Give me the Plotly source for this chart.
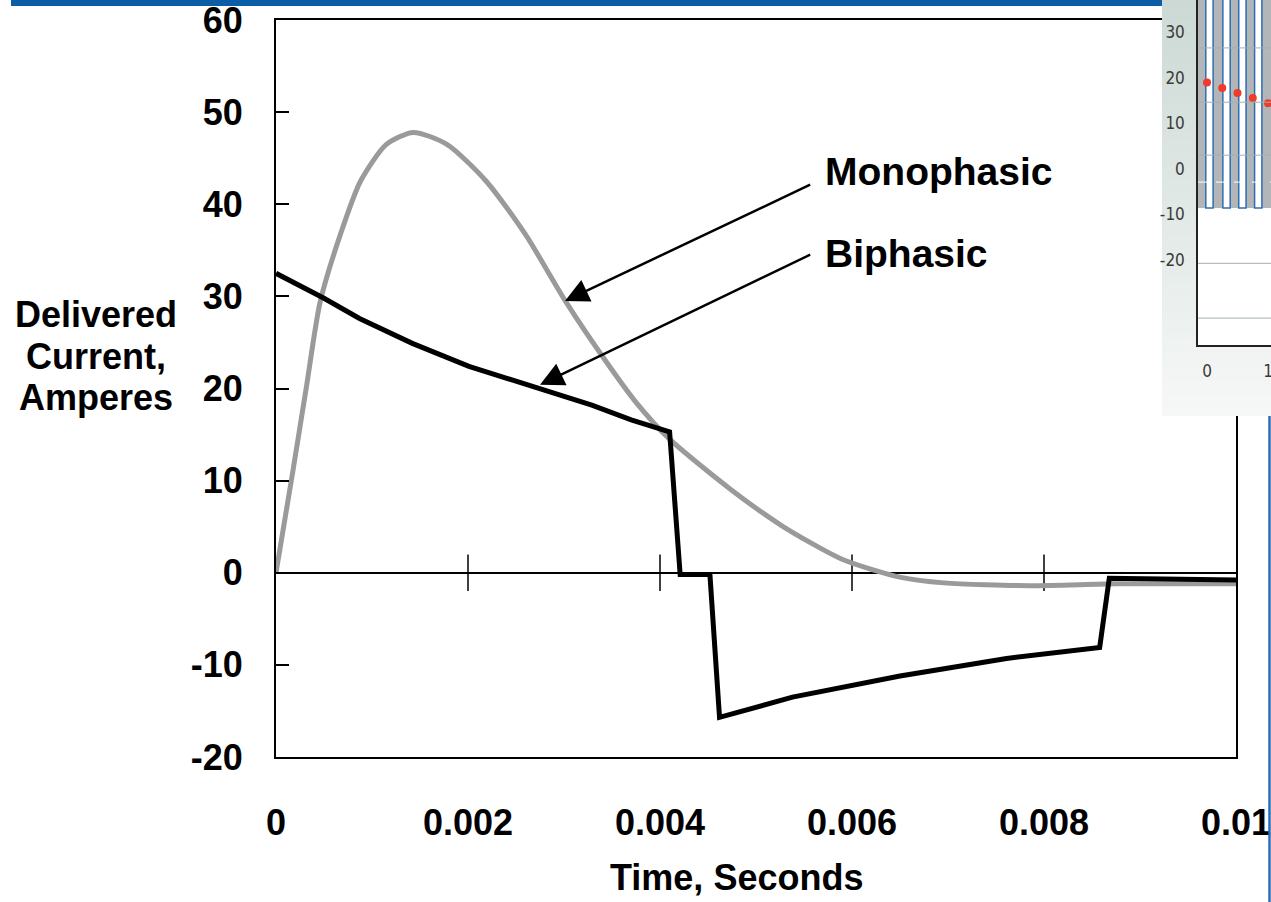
import plotly.graph_objects as go

# ---------------- data ----------------
mono_t = [0, 0.00018, 0.00032, 0.00046, 0.00067, 0.00088, 0.00115, 0.00143, 0.00178,
          0.00219, 0.0026, 0.00302, 0.00344, 0.00375, 0.0041, 0.00473, 0.00527,
          0.00589, 0.00651, 0.00696, 0.00785, 0.00875, 0.01]
mono_i = [0, 11.3, 20.4, 29.4, 36.7, 42.5, 46.5, 47.8, 46.5,
          42.5, 36.7, 29.4, 22.9, 18.5, 14.5, 9.1, 5.1,
          1.5, -0.5, -1.1, -1.4, -1.2, -1.2]

bi_t = [0, 0.0005, 0.00087, 0.00142, 0.00201, 0.00273, 0.00329, 0.0037, 0.0041,
        0.00421, 0.00452, 0.00462, 0.00538, 0.0065, 0.00761, 0.00858, 0.00868, 0.01]
bi_i = [32.5, 29.8, 27.6, 24.9, 22.4, 20.0, 18.2, 16.6, 15.3,
        -0.2, -0.2, -15.7, -13.5, -11.2, -9.3, -8.1, -0.6, -0.8]

x_tickvals = [0, 0.002, 0.004, 0.006, 0.008, 0.01]
x_ticktext = ["0", "0.002", "0.004", "0.006", "0.008", "0.01"]
y_tickvals = [-20, -10, 0, 10, 20, 30, 40, 50, 60]
y_ticktext = ["-20", "-10", "0", "10", "20", "30", "40", "50", "60"]
zero_line_ticks = [0.002, 0.004, 0.006, 0.008]
y_title_lines = ["Delivered", "Current,", "Amperes"]

# inset (partial slide chart in the top-right corner)
inset_bar_x = [0.04, 0.32, 0.58, 0.84]
inset_bar_top = [60, 60, 60, 60]
inset_bar_base = -8.6
inset_dot_x = [0, 0.25, 0.5, 0.75, 1.0]
inset_dot_y = [18.9, 17.7, 16.6, 15.5, 14.4]
inset_y_ticks = [30, 20, 10, 0, -10, -20]
inset_y_text = ["30", "20", "10", "0", "-10", "-20"]
inset_x_ticks = [0, 1]
inset_grid = [26.5, 14.6, 3.0, -20.7, -32.7]
inset_dash_grid = [-2.9]

W, H = 1271, 902
FONT = "Liberation Sans, Arial, Helvetica, sans-serif"
NARROW = "Liberation Sans Narrow, DejaVu Sans Condensed, Liberation Sans, sans-serif"

def px_x(p):
    return p / W

def px_y(p):
    return 1 - p / H

fig = go.Figure()

# zero-line crossing tick marks
fig.add_trace(go.Scatter(
    x=zero_line_ticks, y=[0] * len(zero_line_ticks), mode="markers",
    marker=dict(symbol="line-ns", size=26, line=dict(width=1.5, color="black")),
    hoverinfo="skip", showlegend=False, xaxis="x", yaxis="y"))

fig.add_trace(go.Scatter(
    x=mono_t, y=mono_i, mode="lines", name="Monophasic",
    line=dict(color="#9a9a9a", width=5, shape="spline", smoothing=0.7),
    showlegend=False, xaxis="x", yaxis="y"))

fig.add_trace(go.Scatter(
    x=bi_t, y=bi_i, mode="lines", name="Biphasic",
    line=dict(color="black", width=5), showlegend=False, xaxis="x", yaxis="y"))

# inset background gradient (decorative)
n_bg = 60
fig.add_trace(go.Heatmap(
    z=[[k / (n_bg - 1)] for k in range(n_bg)], x=[0], y=list(range(n_bg)),
    colorscale=[[0, "#f6f8f7"], [1, "#ccd9d4"]], showscale=False,
    hoverinfo="skip", xaxis="x2", yaxis="y2"))

# inset bars and dots
fig.add_trace(go.Bar(
    x=[0.45], y=[60], base=[inset_bar_base], width=[1.4],
    marker=dict(color="#b2b6b8", line=dict(width=0)),
    hoverinfo="skip", showlegend=False, xaxis="x3", yaxis="y3"))
fig.add_trace(go.Bar(
    x=inset_bar_x, y=inset_bar_top, base=[inset_bar_base] * len(inset_bar_x),
    width=[0.12] * len(inset_bar_x),
    marker=dict(color="white", line=dict(width=1.5, color="#2f6db3")),
    hoverinfo="skip", showlegend=False, xaxis="x3", yaxis="y3"))
fig.add_trace(go.Scatter(
    x=inset_dot_x, y=inset_dot_y, mode="markers",
    marker=dict(size=8, color="#ee3b2b"), cliponaxis=False,
    hoverinfo="skip", showlegend=False, xaxis="x3", yaxis="y3"))

shapes = []
for g in inset_grid:
    shapes.append(dict(type="line", xref="x3 domain", yref="y3", x0=0, x1=1, y0=g, y1=g,
                       line=dict(color="#a3b0ac", width=1), layer="above"))
for g in inset_dash_grid:
    shapes.append(dict(type="line", xref="x3 domain", yref="y3", x0=0, x1=1, y0=g, y1=g,
                       line=dict(color="white", width=1, dash="dash"), layer="above"))
# blue slide bar at top and blue frame line at right
shapes.append(dict(type="rect", xref="paper", yref="paper",
                   x0=px_x(11), x1=px_x(1162), y0=px_y(6), y1=1.0,
                   fillcolor="#0b5da6", line=dict(width=0), layer="above"))
shapes.append(dict(type="line", xref="paper", yref="paper",
                   x0=px_x(1269.5), x1=px_x(1269.5), y0=0, y1=px_y(416),
                   line=dict(color="#2b6cb3", width=2.5), layer="above"))

annotations = []
for k, line_text in enumerate(y_title_lines):
    annotations.append(dict(
        text=line_text, xref="paper", yref="paper",
        x=px_x(96), y=px_y(314 + 42 * k), xanchor="center", yanchor="middle",
        showarrow=False, font=dict(family=FONT, size=36, color="black", weight="bold")))
annotations += [
    dict(text="Time, Seconds", xref="paper", yref="paper",
         x=px_x(736), y=px_y(877), xanchor="center", yanchor="middle",
         showarrow=False, font=dict(family=FONT, size=36, color="black", weight="bold")),
    dict(text="Monophasic", xref="x", yref="y", x=0.0057, y=43.6,
         xanchor="left", yanchor="middle", showarrow=False,
         font=dict(family=FONT, size=39, color="black", weight="bold")),
    dict(text="Biphasic", xref="x", yref="y", x=0.0057, y=34.7,
         xanchor="left", yanchor="middle", showarrow=False,
         font=dict(family=FONT, size=39, color="black", weight="bold")),
    dict(text="", xref="x", yref="y", axref="x", ayref="y",
         x=0.00301, y=29.5, ax=0.00558, ay=42.2, showarrow=True,
         arrowhead=2, arrowsize=1.9, arrowwidth=2.5, arrowcolor="black", standoff=0),
    dict(text="", xref="x", yref="y", axref="x", ayref="y",
         x=0.00275, y=20.4, ax=0.00558, ay=34.6, showarrow=True,
         arrowhead=2, arrowsize=1.9, arrowwidth=2.5, arrowcolor="black", standoff=0),
]

fig.update_layout(
    template="none",
    width=W, height=H,
    margin=dict(l=0, r=0, t=0, b=0, autoexpand=False),
    paper_bgcolor="white", plot_bgcolor="white",
    showlegend=False, barmode="overlay",
    shapes=shapes, annotations=annotations,
    xaxis=dict(domain=[px_x(276), px_x(1236)], range=[0, 0.01], automargin=False,
               tickvals=x_tickvals, ticktext=x_ticktext, ticks="",
               ticklabelstandoff=33, ticklabeloverflow="allow",
               tickfont=dict(family=FONT, size=36, color="black", weight="bold"),
               showgrid=False, zeroline=False,
               showline=True, linecolor="black", linewidth=2, mirror=True),
    yaxis=dict(domain=[px_y(757), px_y(20)], range=[-20, 60], automargin=False,
               tickvals=y_tickvals, ticktext=y_ticktext,
               ticks="inside", ticklen=13, tickwidth=1.5,
               tickcolor="black", ticklabelstandoff=24, ticklabeloverflow="allow",
               tickfont=dict(family=FONT, size=36, color="black", weight="bold"),
               showgrid=False, zeroline=True, zerolinecolor="black", zerolinewidth=1.5,
               showline=True, linecolor="black", linewidth=2, mirror=True),
    xaxis2=dict(domain=[px_x(1162), 1.0], range=[-0.5, 0.5], visible=False,
                anchor="y2", fixedrange=True, automargin=False),
    yaxis2=dict(domain=[px_y(416), 1.0], range=[-0.5, n_bg - 0.5], visible=False,
                anchor="x2", fixedrange=True, automargin=False),
    xaxis3=dict(domain=[px_x(1198), 1.0], range=[-0.1475, 1.049], anchor="y3",
                automargin=False, tickvals=inset_x_ticks, ticks="",
                ticklabelstandoff=10, ticklabeloverflow="allow",
                tickfont=dict(family=NARROW, size=17, color="#3a3a3a"),
                showgrid=False, zeroline=False,
                showline=True, linecolor="#222", linewidth=1.5),
    yaxis3=dict(domain=[px_y(345), 1.0], range=[-38.6, 37.0], anchor="x3",
                automargin=False, tickvals=inset_y_ticks, ticktext=inset_y_text,
                ticks="", ticklabelstandoff=8, ticklabeloverflow="allow",
                tickfont=dict(family=NARROW, size=17, color="#3a3a3a"),
                showgrid=False, zeroline=False, layer="below traces",
                showline=True, linecolor="#222", linewidth=1.5),
)

fig.write_html("out.html", config={"displayModeBar": False},
               post_script="document.body.style.margin='0px';")
